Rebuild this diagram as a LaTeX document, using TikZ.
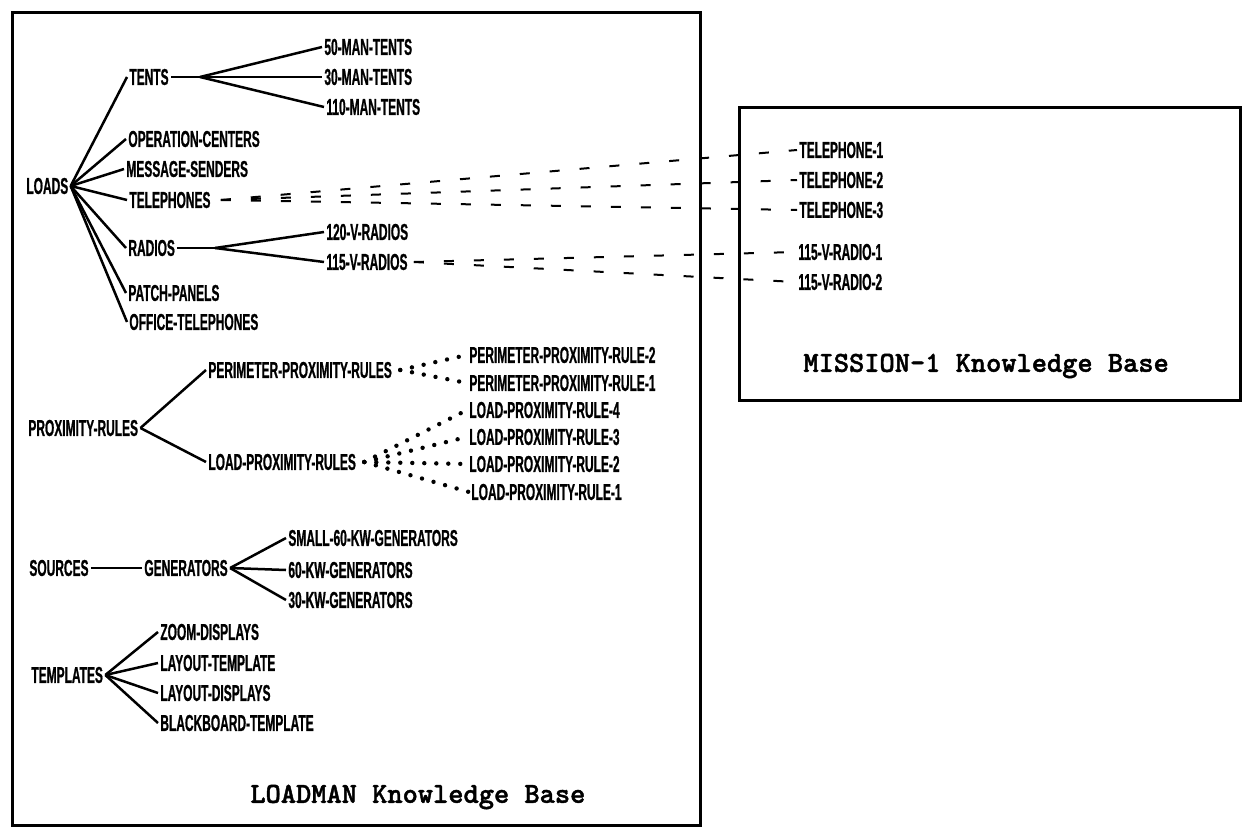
\documentclass[tikz,border=0pt]{standalone}
\usepackage{fontspec}
\usepackage{tikz}
\newfontfamily\treefont{Liberation Sans}[FakeStretch=0.52, FakeBold=0.8]
\newfontfamily\kbfont{lmmonolt10-bold}[Extension=.otf, FakeBold=1.5]

\begin{document}
\begin{tikzpicture}[x=0.5pt, y=-0.5pt,
    lbl/.style={anchor=west, inner sep=1pt, font=\treefont\bfseries\fontsize{11.5}{13}\selectfont},
    kbtitle/.style={anchor=west, inner sep=0pt, font=\kbfont\fontsize{14.5}{16}\selectfont},
    kbbox/.style={line width=1.5pt},
    branch/.style={line width=1.25pt},
    xlink/.style={line width=1pt, dash pattern=on 5pt off 10pt},
    dotlink/.style={line width=2.2pt, line cap=round, dash pattern=on 0pt off 6pt}]
    \useasboundingbox (0,0) rectangle (1245,829);

    % Knowledge base frames
    \draw[kbbox] (12,13) rectangle (700,825);
    \draw[kbbox] (739,107) rectangle (1240,400);
    \node[kbtitle] (loadmantitle) at (250,797) {LOADMAN Knowledge Base};
    \node[kbtitle] (missiontitle) at (803,366) {MISSION-1 Knowledge Base};

    % LOADS subtree
    \node[lbl] (loads)       at (24,186)  {LOADS};
    \node[lbl] (tents)       at (127,77)  {TENTS};
    \node[lbl] (men50)       at (322,47)  {50-MAN-TENTS};
    \node[lbl] (men30)       at (322,77)  {30-MAN-TENTS};
    \node[lbl] (men110)      at (324,107) {110-MAN-TENTS};
    \node[lbl] (opcenters)   at (126,139) {OPERATION-CENTERS};
    \node[lbl] (msgsenders)  at (124,169) {MESSAGE-SENDERS};
    \node[lbl] (telephones)  at (127,200) {TELEPHONES};
    \node[lbl] (radios)      at (126,248) {RADIOS};
    \node[lbl] (radios120)   at (324,232) {120-V-RADIOS};
    \node[lbl] (radios115)   at (324,262) {115-V-RADIOS};
    \node[lbl] (patchpanels) at (126,293) {PATCH-PANELS};
    \node[lbl] (officetel)   at (127,322) {OFFICE-TELEPHONES};

    \coordinate (tentsfork)  at (200,77);
    \coordinate (radiosfork) at (215,248);

    \foreach \kid in {tents,opcenters,msgsenders,telephones,radios,patchpanels,officetel}
        \draw[branch] (loads.east) -- (\kid.west);
    \draw[branch] (tents.east) -- (tentsfork);
    \foreach \kid in {men50,men30,men110}
        \draw[branch] (tentsfork) -- (\kid.west);
    \draw[branch] (radios.east) -- (radiosfork);
    \foreach \kid in {radios120,radios115}
        \draw[branch] (radiosfork) -- (\kid.west);

    % MISSION-1 instances
    \node[lbl] (tel1)   at (797,150) {TELEPHONE-1};
    \node[lbl] (tel2)   at (797,180) {TELEPHONE-2};
    \node[lbl] (tel3)   at (797,210) {TELEPHONE-3};
    \node[lbl] (radio1) at (796,252) {115-V-RADIO-1};
    \node[lbl] (radio2) at (796,282) {115-V-RADIO-2};

    \foreach \inst in {tel1,tel2,tel3}
        \draw[xlink] ([xshift=4pt]telephones.east) -- (\inst.west);
    \foreach \inst in {radio1,radio2}
        \draw[xlink] ([xshift=2pt]radios115.east) -- (\inst.west);

    % PROXIMITY-RULES subtree
    \node[lbl] (proxrules)  at (26,428)  {PROXIMITY-RULES};
    \node[lbl] (perimrules) at (206,370) {PERIMETER-PROXIMITY-RULES};
    \node[lbl] (perimrule2) at (467,355) {PERIMETER-PROXIMITY-RULE-2};
    \node[lbl] (perimrule1) at (467,383) {PERIMETER-PROXIMITY-RULE-1};
    \node[lbl] (loadrules)  at (206,462) {LOAD-PROXIMITY-RULES};
    \node[lbl] (loadrule4)  at (467,410) {LOAD-PROXIMITY-RULE-4};
    \node[lbl] (loadrule3)  at (467,437) {LOAD-PROXIMITY-RULE-3};
    \node[lbl] (loadrule2)  at (467,464) {LOAD-PROXIMITY-RULE-2};
    \node[lbl] (loadrule1)  at (469,492) {LOAD-PROXIMITY-RULE-1};

    \draw[branch] (proxrules.east) -- (perimrules.west);
    \draw[branch] (proxrules.east) -- (loadrules.west);
    \foreach \kid in {perimrule2,perimrule1}
        \draw[dotlink] ([xshift=3pt]perimrules.east) -- (\kid.west);
    \foreach \kid in {loadrule4,loadrule3,loadrule2,loadrule1}
        \draw[dotlink] ([xshift=3pt]loadrules.east) -- (\kid.west);

    % SOURCES subtree
    \node[lbl] (sources)    at (27,568)  {SOURCES};
    \node[lbl] (generators) at (142,568) {GENERATORS};
    \node[lbl] (gen60small) at (286,538) {SMALL-60-KW-GENERATORS};
    \node[lbl] (gen60)      at (286,570) {60-KW-GENERATORS};
    \node[lbl] (gen30)      at (286,600) {30-KW-GENERATORS};

    \draw[branch] (sources.east) -- (generators.west);
    \foreach \kid in {gen60small,gen60,gen30}
        \draw[branch] (generators.east) -- (\kid.west);

    % TEMPLATES subtree
    \node[lbl] (templates)  at (29,675)  {TEMPLATES};
    \node[lbl] (zoomdisp)   at (158,632) {ZOOM-DISPLAYS};
    \node[lbl] (layouttmpl) at (158,663) {LAYOUT-TEMPLATE};
    \node[lbl] (layoutdisp) at (158,693) {LAYOUT-DISPLAYS};
    \node[lbl] (bbtmpl)     at (158,723) {BLACKBOARD-TEMPLATE};

    \foreach \kid in {zoomdisp,layouttmpl,layoutdisp,bbtmpl}
        \draw[branch] (templates.east) -- (\kid.west);
\end{tikzpicture}
\end{document}
